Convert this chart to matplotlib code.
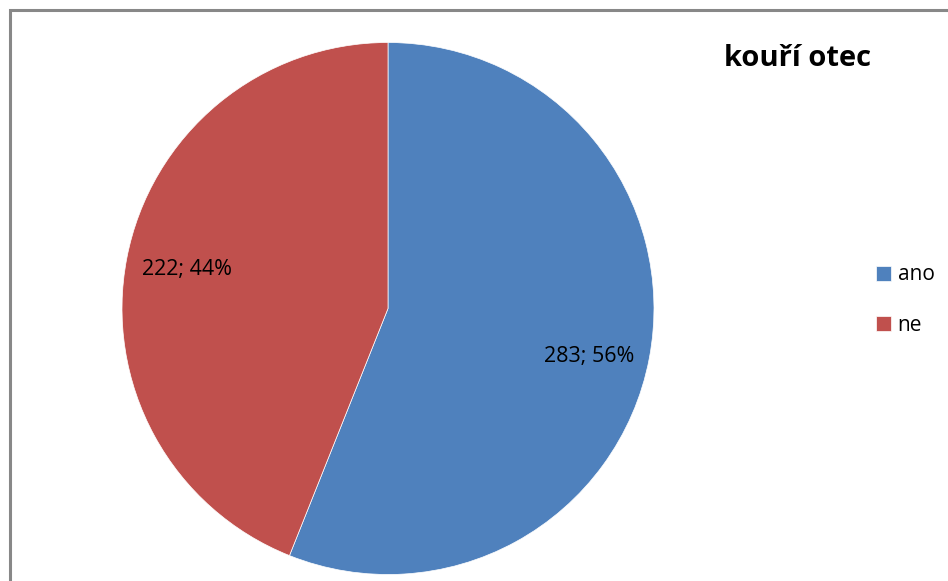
import matplotlib.pyplot as plt
from matplotlib.patches import Rectangle

labels = ["ano", "ne"]
counts = [283, 222]
colors = ["#4F81BD", "#C0504D"]
title = "kouří otec"

W, H = 948, 581
plt.rcParams['font.family'] = ['Open Sans', 'DejaVu Sans']

fig = plt.figure(figsize=(W / 100, H / 100), dpi=100)

# gray chart frame (only top and left edge are inside the image)
fig.patches.append(Rectangle((10 / W, -0.1), 1.2, 1 - 10 / H + 0.1,
                             transform=fig.transFigure, fill=False,
                             edgecolor="#888888", linewidth=2.2))

# pie occupies a 532 px square
cx, cy, r = 388, 308.5, 266
ax = fig.add_axes([(cx - r) / W, 1 - (cy + r) / H, 2 * r / W, 2 * r / H])
total = sum(counts)


def fmt(pct):
    return "%d; %d%%" % (round(pct * total / 100), round(pct))


wedges, texts, autotexts = ax.pie(counts, colors=colors, startangle=90,
                                  counterclock=False, autopct=fmt,
                                  pctdistance=0.77,
                                  wedgeprops=dict(edgecolor="white", linewidth=0.5),
                                  textprops=dict(fontsize=15.5, color="black"))
# the "ano" label sits a little lower than the bisector
x0, y0 = autotexts[0].get_position()
autotexts[0].set_position((x0, y0 - 0.035))
ax.set_xlim(-1, 1)
ax.set_ylim(-1, 1)

fig.text(797 / W, 1 - 58 / H, title, fontsize=21, fontweight="bold",
         ha="center", va="center")

fig.legend(wedges, labels, loc="upper left", bbox_to_anchor=(866 / W, 1 - 254 / H),
           frameon=False, fontsize=15, handlelength=0.72, handleheight=0.72,
           handletextpad=0.3, labelspacing=1.4, borderpad=0)

fig.savefig("out.png", dpi=100)
